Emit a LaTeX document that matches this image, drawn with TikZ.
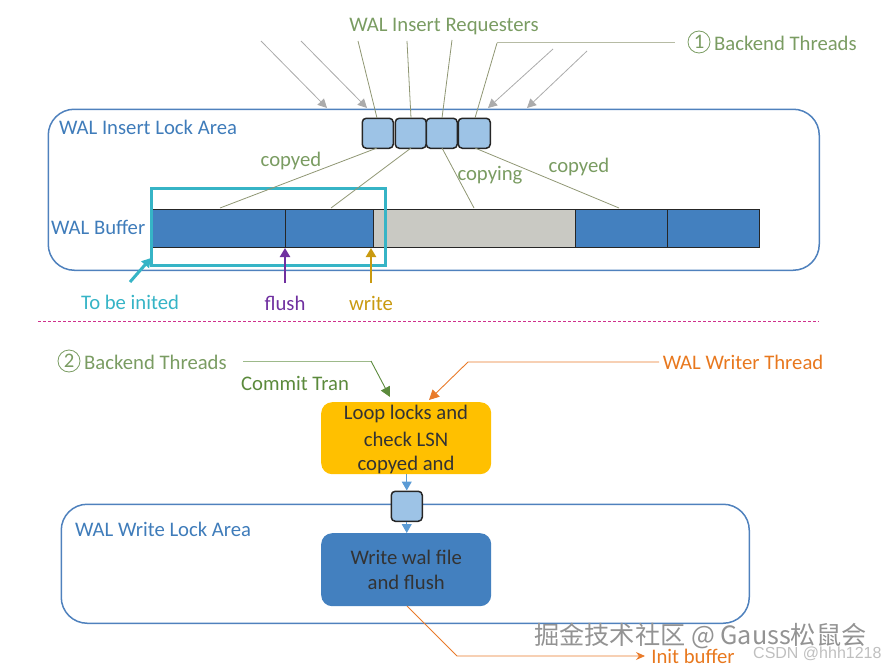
\documentclass[tikz,border=0pt]{standalone}
\usepackage{fontspec}
\setmainfont{Carlito}
\newfontfamily\cjkwm{Noto Sans CJK SC}
\newfontfamily\csdnfont{Liberation Sans}
\usetikzlibrary{arrows.meta}
\definecolor{areablue}{HTML}{4F81BD}
\definecolor{labelblue}{HTML}{3F7CBA}
\definecolor{tgreen}{HTML}{7A9C62}
\definecolor{ccgreen}{HTML}{5B8A3C}
\definecolor{smallblue}{HTML}{9DC3E6}
\definecolor{segblue}{HTML}{4380BF}
\definecolor{seggray}{HTML}{C9C9C3}
\definecolor{teal}{HTML}{36B4C6}
\definecolor{linkolive}{HTML}{8F9673}
\definecolor{oline}{HTML}{E97B2A}
\definecolor{otext}{HTML}{E8781E}
\definecolor{wgold}{HTML}{C99A10}
\definecolor{fpurple}{HTML}{7030A0}
\definecolor{cardyellow}{HTML}{FFC000}
\definecolor{flowblue}{HTML}{5B9BD5}
\definecolor{divider}{HTML}{D0308C}
\tikzset{
  x=1pt,y=-1pt,
  area/.style={draw=areablue,line width=1.5pt,rounded corners=26pt},
  lockbox/.style={draw=black!85,line width=1.5pt,fill=smallblue,rounded corners=4pt,inner sep=0pt,anchor=north west},
  seg/.style={draw=black!85,line width=1.6pt,inner sep=0pt,anchor=north west,minimum height=38pt},
  lbl/.style={inner sep=0pt,font=\fontsize{20.7}{24}\selectfont},
  link/.style={draw=linkolive,line width=0.8pt},
  grayarrow/.style={draw=black!33,line width=0.8pt,-{Triangle[length=9pt,width=9pt]}},
  stepcard/.style={rounded corners=11pt,inner sep=0pt,anchor=north west,minimum width=170pt,minimum height=72pt,align=center,text=black!80,font=\fontsize{20.7}{25}\selectfont},
  numring/.style={circle,draw=tgreen,line width=0.8pt,minimum size=22pt,inner sep=0pt,text=tgreen,font=\fontsize{20.7}{24}\selectfont}
}
\begin{document}
\begin{tikzpicture}
\useasboundingbox (0,0) rectangle (886,669);
% lock areas
\node[area,anchor=north west,minimum width=771pt,minimum height=161pt,inner sep=0pt] (insertarea) at (47.5,108.5) {};
\node[area,anchor=north west,minimum width=688pt,minimum height=119pt,inner sep=0pt] (writearea) at (60.5,503.5) {};
% lock boxes
\node[lockbox,minimum width=31pt,minimum height=30pt] (b1) at (361.5,117.5) {};
\node[lockbox,minimum width=31pt,minimum height=30pt] (b2) at (394.5,117.5) {};
\node[lockbox,minimum width=31pt,minimum height=30pt] (b3) at (425.5,117.5) {};
\node[lockbox,minimum width=32pt,minimum height=30pt] (b4) at (457.5,117.5) {};
% buffer
\node[seg,fill=segblue,minimum width=133pt] (s1) at (151.5,208.5) {};
\node[seg,fill=segblue,minimum width=88pt] (s2) at (284.5,208.5) {};
\node[seg,fill=seggray,minimum width=202pt] (s3) at (372.5,208.5) {};
\node[seg,fill=segblue,minimum width=92pt] (s4) at (574.5,208.5) {};
\node[seg,fill=segblue,minimum width=92pt] (s5) at (666.5,208.5) {};
% teal frame
\node[draw=teal,line width=3pt,anchor=north west,minimum width=234pt,minimum height=77pt,inner sep=0pt] (initbox) at (150,187) {};
% free ends
\coordinate (r1) at (358,41);
\coordinate (r2) at (407,41);
\coordinate (r3) at (452,40);
\coordinate (r4) at (497,43);
\coordinate (r5) at (675,43);
\coordinate (g1) at (261,41);
\coordinate (g1e) at (327,108);
\coordinate (g2) at (301,41);
\coordinate (g2e) at (367,108);
\coordinate (g3) at (553,49);
\coordinate (g3e) at (488,108);
\coordinate (g4) at (587,51);
\coordinate (g4e) at (527,108);
% requester links
\draw[link] (r1) -- (377,118);
\draw[link] (r2) -- (411,118);
\draw[link] (r3) -- (442,118);
\draw[link] (475,118) -- (r4);
\draw[draw=linkolive!65,line width=1pt] (r4) -- (r5);
\draw[grayarrow] (g1) -- (g1e);
\draw[grayarrow] (g2) -- (g2e);
\draw[grayarrow] (g3) -- (g3e);
\draw[grayarrow] (g4) -- (g4e);
% copy links
\draw[link] (377,148) -- (220,208);
\draw[link] (411,148) -- (331,208);
\draw[link] (442,148) -- (474,208);
\draw[link] (475,148) -- (619,208);
% labels top
\node[lbl,text=tgreen] (reqlabel) at (444,27) {WAL Insert Requesters};
\node[numring] (n1) at (699,42) {1};
\node[lbl,text=tgreen,anchor=west] (bt1) at (714,43) {Backend Threads};
\node[lbl,text=labelblue,anchor=west] (insertlabel) at (59,127) {WAL Insert Lock Area};
\node[lbl,text=labelblue,anchor=west] (bufferlabel) at (51,227) {WAL Buffer};
\node[lbl,text=tgreen] (c1) at (291,161) {copyed};
\node[lbl,text=tgreen] (c2) at (490,175) {copying};
\node[lbl,text=tgreen] (c3) at (579,167) {copyed};
\node[lbl,text=teal] (tobe) at (130,302) {To be inited};
\node[lbl,text=fpurple] (flush) at (285,303) {flush};
\node[lbl,text=wgold] (write) at (371,303) {write};
% pointer arrows
\coordinate (tobetip) at (151,258);
\coordinate (tobetail) at (130,282);
\coordinate (flushtail) at (285,283);
\coordinate (writetail) at (371,283);
\draw[teal,line width=3pt,-{Triangle[length=9pt,width=10pt]}] (tobetail) -- (tobetip);
\draw[fpurple,line width=2.4pt,-{Triangle[length=9pt,width=10pt]}] (flushtail) -- (285,248);
\draw[wgold,line width=2.4pt,-{Triangle[length=9pt,width=10pt]}] (writetail) -- (371,248);
% divider
\coordinate (d1) at (38,321);
\coordinate (d2) at (819,321);
\draw[draw=divider,line width=1pt,dash pattern=on 3pt off 2pt] (d1) -- (d2);
% lower section
\node[numring] (n2) at (69,361) {2};
\node[lbl,text=tgreen,anchor=west] (bt2) at (84,362) {Backend Threads};
\node[lbl,text=ccgreen] (commit) at (295,383) {Commit Tran};
\node[lbl,text=otext] (writer) at (743,362) {WAL Writer Thread};
\node[stepcard,fill=cardyellow] (loop) at (321,402) {};
\node[lbl,text=black!80] (loop1) at (406,414) {Loop locks and};
\node[lbl,text=black!80] (loop2) at (406,439) {check LSN};
\node[lbl,text=black!80] (loop3) at (406,465) {copyed and};
\node[stepcard,fill=segblue,minimum height=73pt] (wal) at (321,533) {Write wal file\\and flush};
\node[lockbox,minimum width=31pt,minimum height=30pt] (wbox) at (390.5,490.5) {};
\coordinate (cm1) at (243,361);
\coordinate (cm2) at (371,361);
\coordinate (cm3) at (390,397);
\draw[draw=ccgreen!60!white,line width=0.9pt] (cm1) -- (cm2);
\draw[draw=ccgreen,line width=0.9pt,-{Triangle[length=10pt,width=10pt]}] (cm2) -- (cm3);
\coordinate (wt1) at (659,362);
\coordinate (wt2) at (468,362);
\coordinate (wt3) at (429,400);
\draw[oline,line width=0.9pt,-{Triangle[length=10pt,width=10pt]}] (wt1) -- (wt2) -- (wt3);
\draw[draw=flowblue,line width=1pt,-{Triangle[length=9pt,width=10pt]}] (loop.south -| wbox.north) -- (wbox.north);
\draw[draw=flowblue,line width=1pt,-{Triangle[length=9pt,width=10pt]}] (wbox.south) -- (wal.north -| wbox.south);
\node[lbl,text=labelblue,anchor=west] (writelabel) at (75,529) {WAL Write Lock Area};
% init buffer
\coordinate (ib1) at (407,606);
\coordinate (ib2) at (457,656);
\node[lbl,text=otext] (initbuf) at (693,656) {Init buffer};
\draw[oline,line width=0.9pt,-{Stealth[length=9pt,width=8pt]}] (ib1) -- (ib2) -- (645,656);
% watermark
\node[inner sep=0pt,anchor=west,text=gray!85,font=\cjkwm\fontsize{25.2}{27}\selectfont] (wm) at (534,636) {掘金技术社区 @ Gauss松鼠会};
\node[inner sep=0pt,anchor=west,text=black!25,font=\csdnfont\fontsize{16}{18}\selectfont] (csdn) at (753,654) {CSDN @hhh1218};
\end{tikzpicture}
\end{document}
